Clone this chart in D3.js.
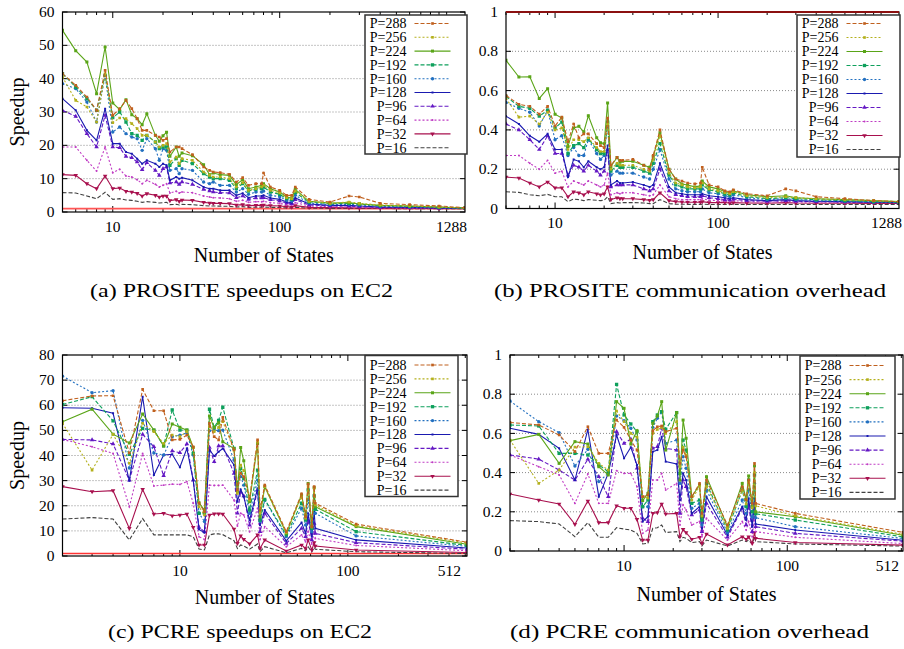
<!DOCTYPE html>
<html><head><meta charset="utf-8">
<script src="https://cdn.jsdelivr.net/npm/d3@7"></script>
<style>
body{margin:0;background:#fff}
svg{display:block}
text{font-family:"Liberation Serif","Times New Roman",serif;fill:#000}
</style>
</head><body>
<svg id="chart" width="904" height="649"></svg>
<script>
// ---------------- DATA ----------------
const seriesLabels = ["P=288","P=256","P=224","P=192","P=160","P=128","P=96","P=64","P=32","P=16"];

// PROSITE: number of states (x) shared by panels (a) and (b)
const prositeStates = [5,6,7,8,9,10,11,12,13,14,15,16,18,19,20,21,22,24,25,26,30,35,38,40,44,50,55,60,65,72,78,80,88,100,110,118,124,150,200,260,300,400,600,900,1288];

// (a) PROSITE speedups, one row per P (288 .. 16)
const prositeSpeedup = [
 [41.5,38,34.5,30.5,42.5,29,31,33.5,31,28,24.5,24.5,23,22.5,21.5,22,18,19.5,19.5,19,17.2,13.5,12.5,12,11.8,11.3,9,10.3,8,8.5,8.5,11.7,7.5,6.5,5,5,7.5,3.8,3,4.8,4.5,2.6,2.2,1.8,1.3],
 [40.5,33.5,31.5,27,41.5,26.8,28.2,28,26.5,25,23,23,21,19.5,20,20.5,15,16.5,14.5,16,15.5,12,11,10.5,10.5,10,7.5,8.8,6.5,7,7.5,8,6.5,5.7,4.3,4,6.3,3.2,2.6,3.0,2.6,2.1,1.8,1.5,1.2],
 [54.5,48.4,45,35.5,49.5,32.7,30.7,33.7,29.2,28,26.2,29.5,23,21.2,22.9,23.9,16.7,19.5,16.7,17.7,16.9,14.2,11.2,11.7,11.2,11,8.2,9.7,7,7.5,8,8.5,7,6,4.5,4.2,6.8,3.2,2.7,2.8,2.4,2,1.8,1.5,1.2],
 [41.5,37.5,34,30.5,41,28.3,30,27,23.5,23,21.5,23,21,19,19.5,19.5,14,16,14,15.5,14.5,11.5,10.5,10,10,9.5,7,8.5,6.3,6.8,7,7.5,6,5.3,4,3.8,5.8,3,2.5,2.6,2.4,1.9,1.7,1.4,1.2],
 [38.5,37,33,27,41,24,25.5,23.5,22.5,22,18.5,22,19,15.5,19,18.5,12.5,13,11.5,13,12.5,9,8.5,9,8,8,6,7,5.3,6,6,6.3,5,4.6,3.5,3.3,5,2.7,2.2,2.3,2.1,1.7,1.5,1.3,1.1],
 [34,30.5,24.5,21.5,31,20.5,20.5,18,17.5,16,14.5,15.5,14.5,13.5,14.5,14,9.5,10.5,10,10.3,9.5,7.5,7,7,6.5,6.5,5,5.6,4.3,4.8,4.8,5,4.2,3.8,3,2.8,4.2,2.4,2,2,1.8,1.5,1.4,1.2,1.1],
 [30.5,28.7,23.5,19.5,29,19.5,19.3,16.7,16.3,15,12.7,14.8,12.5,11,13,13.5,8.7,9,8.3,9,8.3,6.8,6.3,6,5.8,5.7,4.3,4.8,3.8,4.2,4.2,4.3,3.7,3.3,2.7,2.5,3.7,2.1,1.8,1.8,1.6,1.4,1.3,1.1,1.05],
 [19.5,19.5,15.5,12.3,19.5,11.8,12.8,10.8,10.5,9.7,8.5,9.5,8.3,7.5,8,8.5,5.7,6.2,5.7,6,5.8,4.8,4.5,4.3,4.2,4,3.2,3.5,2.9,3.1,3.1,3.2,2.8,2.6,2.2,2.1,2.8,1.8,1.6,1.5,1.4,1.3,1.2,1.1,1.0],
 [11.2,11,8.5,7,10.8,7,7.2,6.2,6,5.6,4.8,5.5,5,4.5,4.8,4.8,3.4,3.7,3.2,3.6,3.5,2.9,2.7,2.6,2.6,2.5,2.1,2.2,1.9,2,2,2.1,1.9,1.8,1.6,1.5,1.9,1.4,1.3,1.25,1.2,1.15,1.1,1.05,1.0],
 [5.8,5.7,4.8,4,5.9,3.8,4,3.6,3.5,3.2,2.9,3.1,2.9,2.7,2.8,2.9,2.2,2.3,2.1,2.3,2.2,1.9,1.8,1.8,1.75,1.7,1.5,1.6,1.4,1.45,1.45,1.5,1.4,1.35,1.25,1.2,1.4,1.15,1.1,1.1,1.05,1.05,1.0,1.0,1.0]
];

// (b) PROSITE communication overhead
const prositeOverhead = [
 [0.575,0.53,0.52,0.48,0.52,0.42,0.465,0.34,0.43,0.36,0.38,0.38,0.33,0.32,0.31,0.46,0.22,0.26,0.245,0.245,0.25,0.22,0.2,0.27,0.4,0.2,0.15,0.14,0.13,0.125,0.13,0.21,0.12,0.11,0.09,0.085,0.095,0.075,0.065,0.1,0.09,0.06,0.05,0.04,0.035],
 [0.56,0.465,0.47,0.43,0.49,0.4,0.41,0.3,0.35,0.35,0.34,0.36,0.31,0.29,0.29,0.43,0.2,0.23,0.22,0.22,0.22,0.2,0.19,0.25,0.37,0.18,0.13,0.12,0.11,0.105,0.11,0.13,0.1,0.09,0.08,0.075,0.085,0.065,0.055,0.06,0.055,0.05,0.045,0.04,0.035],
 [0.754,0.669,0.67,0.56,0.61,0.48,0.46,0.316,0.41,0.418,0.39,0.472,0.36,0.335,0.33,0.537,0.214,0.26,0.235,0.24,0.24,0.22,0.21,0.265,0.385,0.2,0.15,0.125,0.12,0.11,0.115,0.14,0.11,0.1,0.085,0.08,0.09,0.07,0.06,0.065,0.055,0.05,0.045,0.04,0.035],
 [0.57,0.52,0.51,0.47,0.5,0.41,0.44,0.28,0.32,0.33,0.31,0.355,0.3,0.28,0.28,0.44,0.19,0.22,0.21,0.21,0.21,0.19,0.18,0.23,0.33,0.17,0.12,0.11,0.1,0.1,0.1,0.12,0.095,0.085,0.075,0.07,0.08,0.06,0.05,0.055,0.05,0.045,0.04,0.035,0.033],
 [0.54,0.51,0.49,0.42,0.5,0.35,0.37,0.27,0.31,0.27,0.27,0.35,0.28,0.25,0.27,0.42,0.17,0.19,0.18,0.18,0.18,0.16,0.15,0.2,0.3,0.15,0.1,0.09,0.085,0.085,0.085,0.1,0.08,0.075,0.065,0.06,0.07,0.055,0.045,0.05,0.045,0.04,0.037,0.033,0.03],
 [0.47,0.43,0.37,0.34,0.38,0.3,0.3,0.16,0.25,0.24,0.21,0.24,0.21,0.2,0.21,0.32,0.12,0.14,0.13,0.13,0.135,0.12,0.11,0.12,0.23,0.11,0.08,0.075,0.07,0.07,0.07,0.075,0.065,0.06,0.055,0.05,0.055,0.045,0.04,0.045,0.04,0.037,0.035,0.032,0.03],
 [0.43,0.4,0.35,0.3,0.37,0.28,0.28,0.17,0.22,0.21,0.19,0.22,0.19,0.17,0.19,0.3,0.11,0.12,0.12,0.12,0.12,0.1,0.09,0.1,0.2,0.09,0.07,0.065,0.06,0.06,0.06,0.065,0.055,0.05,0.045,0.043,0.048,0.04,0.037,0.04,0.037,0.035,0.033,0.031,0.03],
 [0.27,0.27,0.23,0.2,0.245,0.18,0.19,0.11,0.14,0.13,0.12,0.14,0.12,0.11,0.12,0.18,0.07,0.08,0.075,0.08,0.08,0.07,0.065,0.07,0.12,0.06,0.05,0.045,0.045,0.045,0.045,0.05,0.042,0.04,0.037,0.035,0.04,0.035,0.032,0.035,0.033,0.032,0.031,0.03,0.03],
 [0.16,0.155,0.13,0.11,0.135,0.105,0.105,0.06,0.085,0.08,0.07,0.085,0.075,0.07,0.075,0.11,0.045,0.055,0.05,0.05,0.05,0.045,0.042,0.045,0.08,0.04,0.035,0.033,0.032,0.032,0.032,0.035,0.03,0.03,0.03,0.028,0.03,0.028,0.027,0.03,0.028,0.027,0.027,0.026,0.026],
 [0.085,0.082,0.07,0.065,0.072,0.06,0.06,0.035,0.048,0.045,0.04,0.045,0.042,0.04,0.042,0.06,0.025,0.03,0.028,0.03,0.03,0.028,0.025,0.025,0.045,0.025,0.022,0.022,0.021,0.021,0.021,0.022,0.02,0.02,0.02,0.02,0.02,0.02,0.02,0.02,0.02,0.02,0.02,0.02,0.02]
];

// PCRE: number of states (x) shared by panels (c) and (d)
const pcreStates = [2,3,4,5,6,7,8,9,10,11,12,13,14,15,16,17,18,21,22,23,24,26,29,30,32,43,53,56,58,61,63,64,112,512];

// (c) PCRE speedups
const pcreSpeedup = [
 [61.8,63.7,63.8,41,66.3,57.8,57.8,46.2,46.4,48.1,43.5,21,17.6,52.8,47.5,46.2,55.2,42.2,26.3,32.9,31.6,22.9,46.2,18.3,28.2,9.7,24.7,15.6,28.6,11.7,27.6,21,12.7,5.5],
 [52.8,34.2,48.4,36.9,52.8,49.5,44.8,48.1,47.5,49.5,43.2,19.6,16.3,51.5,49.5,51.2,53.5,42.2,24.9,36.2,34,22.3,45.5,17,27.6,9.3,23.6,15,27.6,11.5,26.9,20.3,12.1,5.2],
 [53.4,58.4,48.5,45,56.5,50.1,43.8,52.5,51.2,50.1,43.2,21.2,18.3,55.7,51,53,45.5,42.8,25.6,43.2,37.9,21.6,44.8,15.6,27.6,9,24.3,16.3,28.9,12.3,27.3,19.6,11.7,4.7],
 [60.3,63.4,53.8,40.5,50.8,50.1,43.8,58.1,50.1,50.1,40.8,17,17,58.4,51.2,54,59.2,42.8,28.2,34.9,30.9,18.3,34.2,14.3,22.5,8.4,21,14.3,26.3,11,23.9,18.6,9.7,4.2],
 [71.6,65,65.8,35,54,41,40.2,47.5,48.1,49,40.2,17,13.7,49.9,50.1,49.9,50.1,38.2,26.9,31.6,28.2,17,30.2,13.7,22.3,7.7,19,12.3,22.5,9.7,21,17,8,3.8],
 [59,58.8,56.8,30,63.4,32.2,40.2,40.5,35.3,42.8,30.2,10.6,9.3,42.2,39.8,41.5,42.8,36.2,21.6,26.5,23.6,14.3,26.9,12.3,18.3,6,13.3,9,17,7.7,17.6,11,6.4,3.2],
 [46.4,46.2,44.6,30.2,48.4,43.5,32,41.8,41.1,44.6,30.2,11.4,9.7,43.2,37.5,43.8,43.8,32.9,17,25.6,23.9,12.3,26.3,9.7,17,5,11,7.7,14.3,6.4,13,9,5.3,2.7],
 [46.4,43.5,40.8,19.6,40.8,27.9,28.2,28.6,28.5,29.6,21,7.7,6.6,28.2,28.1,28.1,28.2,22.3,11.9,17,16.3,9.7,19,6.6,11.7,3.7,8.4,5.7,9.7,4.8,9.7,7,4.2,2.1],
 [27.6,25.6,26,11,26.5,16.7,17,16,16.3,16.7,11.4,4.4,4.4,16.3,16.8,16.8,16.7,10.7,5,8,6.6,4.8,8.4,3,6.4,2,4.4,3,6.4,2.4,5.3,4,2.4,1.4],
 [14.7,15.3,14.7,6.4,14.9,8.4,8.4,8.4,8.4,8.4,7.7,2.8,2.4,8.4,8.8,8.8,8.5,6.1,3,4.4,4,2.7,4.8,1.7,3.7,1.3,3,2.1,3.7,1.6,3.4,2.7,1.7,1.0]
];

// (d) PCRE communication overhead
const pcreOverhead = [
 [0.656,0.643,0.592,0.507,0.634,0.498,0.498,0.668,0.631,0.566,0.515,0.277,0.286,0.614,0.634,0.638,0.609,0.626,0.447,0.515,0.481,0.277,0.345,0.192,0.362,0.133,0.328,0.26,0.362,0.243,0.447,0.243,0.192,0.095],
 [0.566,0.345,0.413,0.53,0.532,0.447,0.413,0.714,0.66,0.6,0.58,0.277,0.27,0.6,0.62,0.63,0.6,0.66,0.43,0.53,0.49,0.26,0.33,0.18,0.33,0.115,0.31,0.24,0.35,0.22,0.4,0.23,0.18,0.085],
 [0.563,0.595,0.447,0.558,0.546,0.43,0.388,0.762,0.728,0.546,0.614,0.257,0.294,0.651,0.689,0.762,0.515,0.706,0.362,0.668,0.575,0.277,0.337,0.175,0.379,0.124,0.345,0.264,0.383,0.226,0.434,0.2,0.175,0.08],
 [0.643,0.638,0.498,0.498,0.49,0.439,0.405,0.85,0.694,0.648,0.609,0.226,0.26,0.66,0.694,0.711,0.621,0.706,0.396,0.566,0.515,0.243,0.26,0.158,0.345,0.107,0.311,0.226,0.362,0.2,0.388,0.19,0.158,0.072],
 [0.765,0.66,0.604,0.434,0.519,0.354,0.396,0.689,0.665,0.626,0.566,0.226,0.226,0.631,0.677,0.711,0.549,0.566,0.345,0.481,0.422,0.218,0.243,0.133,0.311,0.094,0.26,0.192,0.311,0.175,0.345,0.17,0.124,0.064],
 [0.626,0.595,0.524,0.362,0.62,0.277,0.396,0.592,0.473,0.529,0.439,0.15,0.175,0.507,0.515,0.583,0.456,0.444,0.26,0.396,0.362,0.192,0.226,0.116,0.277,0.082,0.226,0.158,0.269,0.124,0.269,0.138,0.107,0.055],
 [0.49,0.469,0.413,0.362,0.468,0.379,0.277,0.609,0.549,0.571,0.422,0.167,0.15,0.524,0.532,0.626,0.524,0.515,0.192,0.362,0.328,0.184,0.209,0.099,0.243,0.07,0.218,0.133,0.235,0.099,0.243,0.124,0.09,0.05],
 [0.49,0.43,0.388,0.243,0.393,0.243,0.243,0.41,0.396,0.396,0.328,0.09,0.107,0.362,0.362,0.396,0.311,0.345,0.133,0.235,0.209,0.133,0.15,0.073,0.167,0.056,0.15,0.107,0.15,0.073,0.175,0.099,0.07,0.038],
 [0.291,0.26,0.24,0.136,0.255,0.145,0.145,0.231,0.218,0.218,0.162,0.056,0.056,0.192,0.196,0.24,0.189,0.192,0.073,0.11,0.094,0.06,0.07,0.039,0.087,0.031,0.073,0.06,0.073,0.039,0.094,0.065,0.043,0.03],
 [0.155,0.15,0.138,0.073,0.145,0.07,0.07,0.119,0.112,0.107,0.09,0.036,0.039,0.116,0.119,0.133,0.094,0.099,0.048,0.07,0.065,0.043,0.048,0.026,0.056,0.026,0.056,0.048,0.056,0.036,0.073,0.048,0.036,0.025]
];

// tick labels
const prositeSpeedupTicks = [0,10,20,30,40,50,60];
const pcreSpeedupTicks = [0,10,20,30,40,50,60,70,80];
const overheadTicks = [0,0.2,0.4,0.6,0.8,1];
const prositeXTickLabels = ["10","100","1288"];
const pcreXTickLabels = ["10","100","512"];
const captionTexts = ["(a)  PROSITE speedups on EC2","(b)  PROSITE communication overhead","(c)  PCRE speedups on EC2","(d)  PCRE communication overhead"];

// ---------------- STYLE ----------------
const colors = ["#c0601e","#b4b01c","#5aa518","#0ea05c","#2270c0","#1a1ab0","#6418c4","#c03cc4","#a8104e","#404040"];
const dashes = ["4,2","2,2",null,"4,2","2,2",null,"4,2","2,2",null,"4,2"];
const markerTypes = [d3.symbolSquare,d3.symbolSquare,d3.symbolSquare,d3.symbolSquare,d3.symbolCircle,d3.symbolSquare,d3.symbolTriangle,d3.symbolCircle,d3.symbolTriangle,null];
const markerSizes = [7,7,9,11,9,4,9,3,9,0];
const markerRot = [0,0,0,0,0,0,0,0,180,0];

const svg = d3.select("#chart");

const panels = [
 {states:prositeStates, values:prositeSpeedup, xDom:[5,1288], yDom:[0,60], yTicks:prositeSpeedupTicks, yFmt:d=>d,
  L:62.5, R:465, T:12, B:212, xLabels:prositeXTickLabels, lastDx:2, ytitle:"Speedup",
  ref:{v:1,color:"#ff5555",w:1.6}, leg:{x:365,y:15,w:102,h:139,row0:8.5,dy:13.8},
  xtitleY:262, cap:{x:90,w:303,y:297}},
 {states:prositeStates, values:prositeOverhead, xDom:[5,1288], yDom:[0,1], yTicks:overheadTicks, yFmt:d=>d===0?"0":(d===1?"1":d3.format(".1f")(d)),
  L:506, R:899, T:12, B:208.5, xLabels:prositeXTickLabels, lastDx:3, ytitle:null,
  ref:{v:1,color:"#8b1010",w:2.2}, leg:{x:797,y:15,w:103,h:142,row0:8.5,dy:14},
  xtitleY:259, cap:{x:494,w:392,y:297}},
 {states:pcreStates, values:pcreSpeedup, xDom:[2,512], yDom:[0,80], yTicks:pcreSpeedupTicks, yFmt:d=>d,
  L:62.5, R:467, T:355, B:556, xLabels:pcreXTickLabels, lastDx:-6, ytitle:"Speedup",
  ref:{v:1,color:"#ff3333",w:1.6}, leg:{x:365,y:355.5,w:93,h:141,row0:9.5,dy:13.9},
  xtitleY:604, cap:{x:108,w:264,y:638}},
 {states:pcreStates, values:pcreOverhead, xDom:[2,512], yDom:[0,1], yTicks:overheadTicks, yFmt:d=>d===0?"0":(d===1?"1":d3.format(".1f")(d)),
  L:510, R:903, T:355, B:551, xLabels:pcreXTickLabels, lastDx:-4, ytitle:null,
  ref:null, leg:{x:800,y:356,w:95,h:143,row0:9.5,dy:14.1},
  xtitleY:601, cap:{x:510,w:359,y:638}}
];

panels.forEach((p,pi)=>{
  const g = svg.append("g");
  const x = d3.scaleLog().domain(p.xDom).range([p.L,p.R]);
  const y = d3.scaleLinear().domain(p.yDom).range([p.B,p.T]);
  const clipId = "clip"+pi;
  svg.append("clipPath").attr("id",clipId).append("rect")
    .attr("x",p.L).attr("y",p.T-2).attr("width",p.R-p.L).attr("height",p.B-p.T+2);

  // grid lines
  g.append("g").selectAll("line").data(p.yTicks.filter(v=>v>p.yDom[0]&&v<p.yDom[1])).join("line")
    .attr("x1",p.L).attr("x2",p.R).attr("y1",d=>y(d)).attr("y2",d=>y(d))
    .attr("stroke","#8a8a8a").attr("stroke-width",1).attr("stroke-dasharray","1,2");

  // y ticks (left & right, inward)
  const yt = g.append("g");
  p.yTicks.forEach(v=>{
    yt.append("line").attr("x1",p.L).attr("x2",p.L+5).attr("y1",y(v)).attr("y2",y(v)).attr("stroke","#000");
    yt.append("line").attr("x1",p.R).attr("x2",p.R-5).attr("y1",y(v)).attr("y2",y(v)).attr("stroke","#000");
    yt.append("text").attr("x",p.L-8).attr("y",y(v)).attr("dy","0.33em").attr("text-anchor","end")
      .style("font-size","15.5px").text(p.yFmt(v));
  });

  // x ticks (log) bottom & top
  const xt = g.append("g");
  const majors = x.ticks().filter(v=>Math.abs(Math.log10(v)-Math.round(Math.log10(v)))<1e-9);
  x.ticks().forEach(v=>{
    const isMajor = majors.includes(v);
    const len = isMajor?6:3;
    xt.append("line").attr("x1",x(v)).attr("x2",x(v)).attr("y1",p.B).attr("y2",p.B-len).attr("stroke","#000");
    xt.append("line").attr("x1",x(v)).attr("x2",x(v)).attr("y1",p.T).attr("y2",p.T+len).attr("stroke","#000");
  });
  // x tick labels
  p.xLabels.forEach((lab,i)=>{
    const v = +lab;
    const last = i===p.xLabels.length-1;
    const t = xt.append("text").attr("y",p.B+19.5).style("font-size","15.5px").text(lab);
    if(last){ t.attr("x",p.R+p.lastDx).attr("text-anchor","end"); }
    else { t.attr("x",x(v)).attr("text-anchor","middle"); }
  });

  // reference line
  if(p.ref){
    g.append("line").attr("x1",p.L).attr("x2",p.R).attr("y1",y(p.ref.v)).attr("y2",y(p.ref.v))
      .attr("stroke",p.ref.color).attr("stroke-width",p.ref.w);
  }

  // series (draw P=16 first, P=288 last)
  const plot = g.append("g").attr("clip-path",`url(#${clipId})`);
  const line = d3.line().x(d=>x(d[0])).y(d=>y(d[1]));
  for(let s=p.values.length-1;s>=0;s--){
    const pts = p.states.map((st,i)=>[st,p.values[s][i]]);
    plot.append("path").datum(pts).attr("d",line).attr("fill","none")
      .attr("stroke",colors[s]).attr("stroke-width",1.1)
      .attr("stroke-dasharray",dashes[s]);
    if(markerTypes[s]){
      const sym = d3.symbol().type(markerTypes[s]).size(markerSizes[s]);
      plot.append("g").selectAll("path").data(pts).join("path")
        .attr("d",sym).attr("fill",colors[s])
        .attr("transform",d=>`translate(${x(d[0])},${y(d[1])}) rotate(${markerRot[s]})`);
    }
  }

  // frame
  g.append("rect").attr("x",p.L).attr("y",p.T).attr("width",p.R-p.L).attr("height",p.B-p.T)
    .attr("fill","none").attr("stroke","#000").attr("stroke-width",1.2);
  if(p.ref && p.ref.v===p.yDom[1]){
    g.append("line").attr("x1",p.L).attr("x2",p.R).attr("y1",y(p.ref.v)).attr("y2",y(p.ref.v))
      .attr("stroke",p.ref.color).attr("stroke-width",p.ref.w);
  }

  // legend
  const lg = g.append("g");
  lg.append("rect").attr("x",p.leg.x).attr("y",p.leg.y).attr("width",p.leg.w).attr("height",p.leg.h)
    .attr("fill","#fff").attr("stroke","#333").attr("stroke-width",1.5);
  seriesLabels.forEach((lab,s)=>{
    const cy = p.leg.y+p.leg.row0+s*p.leg.dy;
    const tx = p.leg.x+41.5;
    lg.append("text").attr("x",tx).attr("y",cy).attr("dy","0.35em").attr("text-anchor","end")
      .style("font-size","14px").text(lab);
    const x1 = tx+8, x2 = tx+44;
    lg.append("line").attr("x1",x1).attr("x2",x2).attr("y1",cy).attr("y2",cy)
      .attr("stroke",colors[s]).attr("stroke-width",1.1).attr("stroke-dasharray",dashes[s]);
    if(markerTypes[s]){
      lg.append("path").attr("d",d3.symbol().type(markerTypes[s]).size(markerSizes[s])())
        .attr("fill",colors[s]).attr("transform",`translate(${(x1+x2)/2},${cy}) rotate(${markerRot[s]})`);
    }
  });

  // axis titles
  g.append("text").attr("x",(p.L+p.R)/2).attr("y",p.xtitleY).attr("text-anchor","middle")
    .style("font-size","20px").text("Number of States");
  if(p.ytitle){
    g.append("text").attr("transform",`translate(24,${(p.T+p.B)/2}) rotate(-90)`)
      .attr("text-anchor","middle").style("font-size","20px").text(p.ytitle);
  }

  // caption
  g.append("text").attr("x",p.cap.x).attr("y",p.cap.y).style("font-size","18px")
    .attr("textLength",p.cap.w).attr("lengthAdjust","spacingAndGlyphs").text(captionTexts[pi]);
});
</script>
</body></html>
